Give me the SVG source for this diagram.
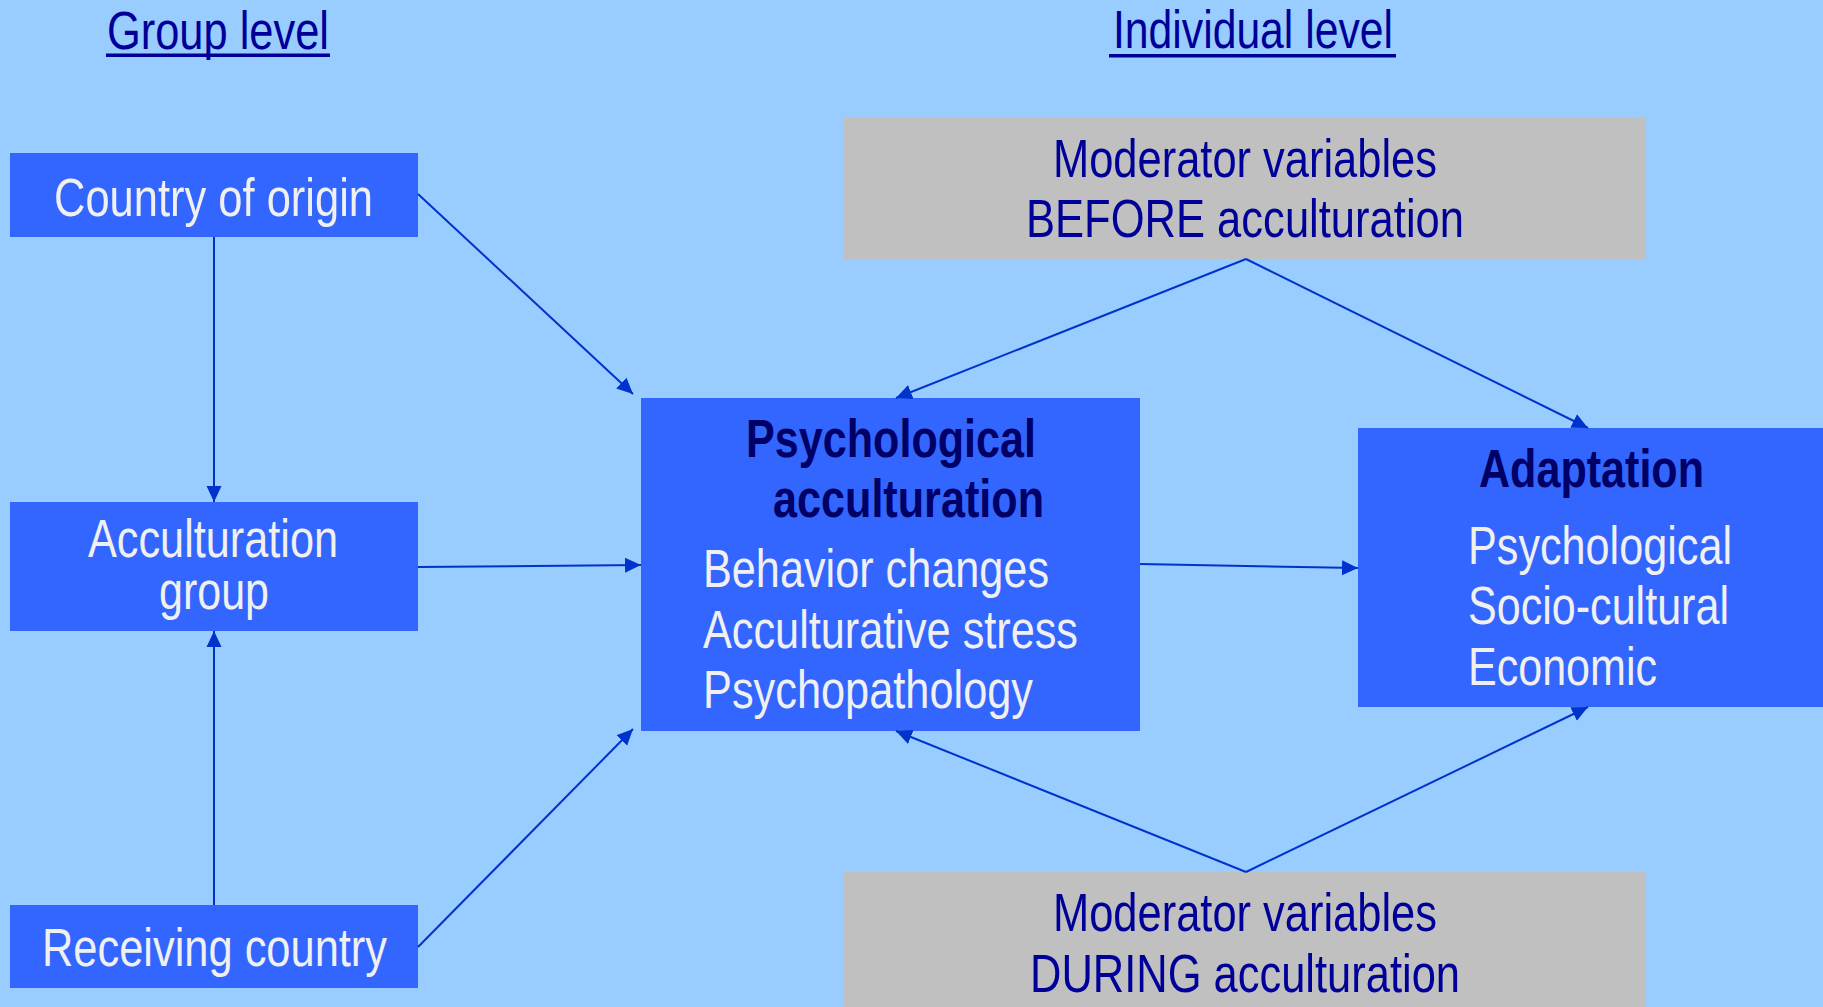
<svg xmlns="http://www.w3.org/2000/svg" width="1823" height="1007" viewBox="0 0 1823 1007">
<defs>
<style>
text{font-family:"Liberation Sans Narrow","Liberation Sans",Arial,sans-serif;font-size:53px}
.w{fill:#F0F0F0}
.d{fill:#000099}
.b{fill:#000066;font-weight:bold}
.box{fill:#3366FF}
.grey{fill:#C0C0C0}
.c line{stroke:#0033CC;stroke-width:2;fill:none}
</style>
<marker id="ah" markerUnits="userSpaceOnUse" markerWidth="18" markerHeight="16" refX="16" refY="8" orient="auto">
<path d="M0,0.5 L16,8 L0,15.5 Z" fill="#0033CC"/>
</marker>
</defs>
<rect width="1823" height="1007" fill="#99CCFF"/>
<g id="title-group">
<text class="d" x="107" y="49" textLength="222" lengthAdjust="spacingAndGlyphs">Group level</text>
<rect x="106" y="53.5" width="224" height="3.5" fill="#000099"/>
</g>
<g id="title-individual">
<text class="d" x="1113" y="48" textLength="280" lengthAdjust="spacingAndGlyphs">Individual level</text>
<rect x="1109" y="54" width="287" height="3.5" fill="#000099"/>
</g>
<g id="country-of-origin">
<rect class="box" x="10" y="153" width="408" height="84"/>
<text class="w" x="54" y="216" textLength="319" lengthAdjust="spacingAndGlyphs">Country of origin</text>
</g>
<g id="acculturation-group">
<rect class="box" x="10" y="502" width="408" height="129"/>
<text class="w" x="88" y="557" textLength="250" lengthAdjust="spacingAndGlyphs">Acculturation</text>
<text class="w" x="159" y="609" textLength="110" lengthAdjust="spacingAndGlyphs">group</text>
</g>
<g id="receiving-country">
<rect class="box" x="10" y="905" width="408" height="83"/>
<text class="w" x="42" y="966" textLength="345" lengthAdjust="spacingAndGlyphs">Receiving country</text>
</g>
<g id="psychological-acculturation">
<rect class="box" x="641" y="398" width="499" height="333"/>
<text class="b" x="746" y="457" textLength="290" lengthAdjust="spacingAndGlyphs">Psychological</text>
<text class="b" x="773" y="517" textLength="271" lengthAdjust="spacingAndGlyphs">acculturation</text>
<text class="w" x="703" y="587" textLength="346" lengthAdjust="spacingAndGlyphs">Behavior changes</text>
<text class="w" x="703" y="648" textLength="375" lengthAdjust="spacingAndGlyphs">Acculturative stress</text>
<text class="w" x="703" y="708" textLength="330" lengthAdjust="spacingAndGlyphs">Psychopathology</text>
</g>
<g id="adaptation">
<rect class="box" x="1358" y="428" width="465" height="279"/>
<text class="b" x="1479" y="487" textLength="225" lengthAdjust="spacingAndGlyphs">Adaptation</text>
<text class="w" x="1468" y="564" textLength="264" lengthAdjust="spacingAndGlyphs">Psychological</text>
<text class="w" x="1468" y="624" textLength="261" lengthAdjust="spacingAndGlyphs">Socio-cultural</text>
<text class="w" x="1468" y="685" textLength="189" lengthAdjust="spacingAndGlyphs">Economic</text>
</g>
<g id="moderator-before">
<rect class="grey" x="844" y="118" width="802" height="141"/>
<text class="d" x="1053" y="177" textLength="384" lengthAdjust="spacingAndGlyphs">Moderator variables</text>
<text class="d" x="1026" y="237" textLength="438" lengthAdjust="spacingAndGlyphs">BEFORE acculturation</text>
</g>
<g id="moderator-during">
<rect class="grey" x="844" y="872" width="802" height="135"/>
<text class="d" x="1053" y="931" textLength="384" lengthAdjust="spacingAndGlyphs">Moderator variables</text>
<text class="d" x="1030" y="992" textLength="430" lengthAdjust="spacingAndGlyphs">DURING acculturation</text>
</g>
<g id="connectors" class="c">
<line x1="214" y1="237" x2="214" y2="502" marker-end="url(#ah)"/>
<line x1="214" y1="905" x2="214" y2="631" marker-end="url(#ah)"/>
<line x1="418" y1="194" x2="633" y2="394" marker-end="url(#ah)"/>
<line x1="418" y1="567" x2="641" y2="565" marker-end="url(#ah)"/>
<line x1="418" y1="947" x2="633" y2="729" marker-end="url(#ah)"/>
<line x1="1140" y1="564" x2="1358" y2="568" marker-end="url(#ah)"/>
<line x1="1246" y1="259" x2="896" y2="398" marker-end="url(#ah)"/>
<line x1="1246" y1="259" x2="1588" y2="428" marker-end="url(#ah)"/>
<line x1="1246" y1="872" x2="896" y2="731" marker-end="url(#ah)"/>
<line x1="1246" y1="872" x2="1588" y2="707" marker-end="url(#ah)"/>
</g>
</svg>
